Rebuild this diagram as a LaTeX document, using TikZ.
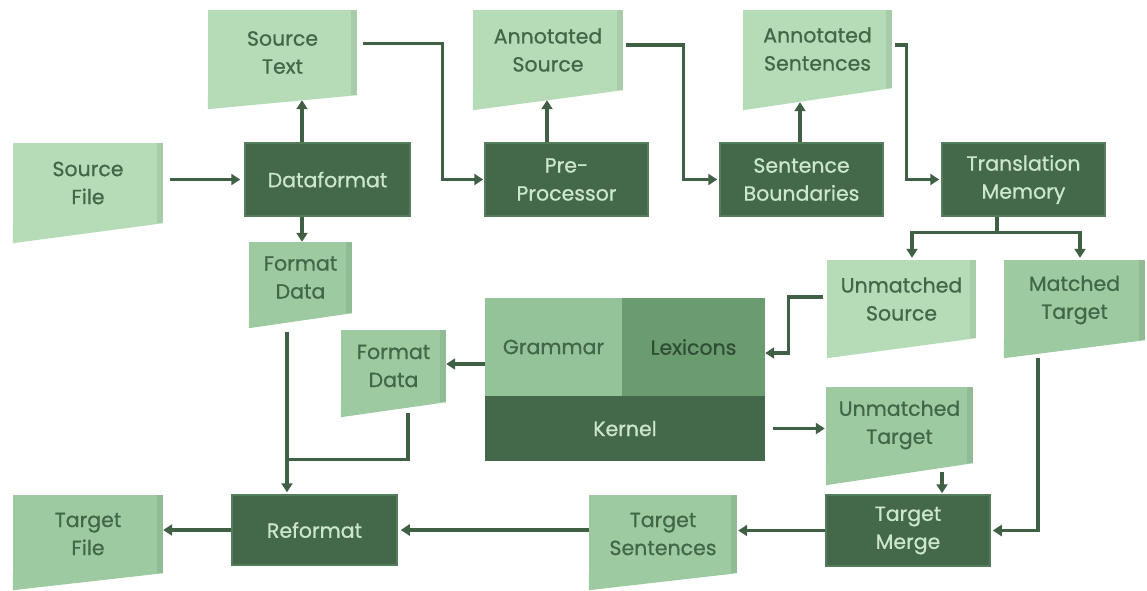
\documentclass[tikz,border=0pt]{standalone}
\usepackage{fontspec}
\setmainfont{Poppins}
\newfontfamily\labelfamily[FakeBold=0.7]{Poppins}
\usetikzlibrary{arrows.meta,calc}

\definecolor{docLight}{HTML}{B5DBB7}
\definecolor{docMid}{HTML}{9DCAA0}
\definecolor{boxDark}{HTML}{44694A}
\definecolor{boxEdge}{HTML}{557D5B}
\definecolor{gramFill}{HTML}{95C399}
\definecolor{lexFill}{HTML}{6B9C70}
\definecolor{inkDark}{HTML}{426648}
\definecolor{inkDeep}{HTML}{2F4C35}
\definecolor{inkLight}{HTML}{CDE7CE}
\definecolor{arrowInk}{HTML}{3F6045}

\tikzset{
  labelfont/.style={font=\labelfamily\fontsize{20.5}{28}\selectfont},
  % document symbol: rectangle plus a slanted lower edge
  docbox/.style n args={4}{rectangle, fill=#1, minimum width=#2, minimum height=#3,
    inner sep=0pt, align=center, text=inkDark, labelfont,
    path picture={\fill[black,opacity=0.07]
      ([xshift=-6pt]path picture bounding box.north east) rectangle
      (path picture bounding box.south east);},
    append after command={\pgfextra{\fill[#1] (\tikzlastnode.south west) --
      (\tikzlastnode.south east) -- ([yshift=-#4]\tikzlastnode.south west) -- cycle;}}},
  procbox/.style n args={2}{rectangle, fill=boxDark, draw=boxEdge, line width=1.5pt,
    minimum width=#1, minimum height=#2, inner sep=0pt, align=center,
    text=inkLight, labelfont},
  arr/.style={draw=arrowInk, line width=3.2pt, -{Triangle[length=9pt,width=11pt]}},
  link/.style={draw=arrowInk, line width=3.2pt},
}

\begin{document}
\begin{tikzpicture}[x=1pt,y=-1pt]
\useasboundingbox (0,0) rectangle (1147,590);

% data items
\node[docbox={docLight}{149pt}{85pt}{14pt}] (st)  at (282.5,52.5) {Source\\Text};
\node[docbox={docLight}{150pt}{80pt}{20pt}] (as)  at (548,50)     {Annotated\\Source};
\node[docbox={docLight}{149pt}{78pt}{22pt}] (asn) at (817.5,49)   {Annotated\\Sentences};
\node[docbox={docLight}{150pt}{80pt}{20pt}] (sf)  at (88,183)     {Source\\File};
\node[docbox={docMid}{103pt}{71pt}{15pt}]   (fd1) at (300.5,277.5) {Format\\Data};
\node[docbox={docMid}{105pt}{72pt}{15pt}]   (fd2) at (393.5,366)  {Format\\Data};
\node[docbox={docLight}{149pt}{78pt}{20pt}] (us)  at (901.5,299)  {Unmatched\\Source};
\node[docbox={docMid}{141pt}{80pt}{18pt}]   (mt)  at (1074.5,300) {Matched\\Target};
\node[docbox={docMid}{147pt}{76pt}{22pt}]   (ut)  at (899.5,425)  {Unmatched\\Target};
\node[docbox={docMid}{148pt}{78pt}{17pt}]   (ts)  at (663,534)    {Target\\Sentences};
\node[docbox={docMid}{150pt}{78pt}{17pt}]   (tf)  at (88,534)     {Target\\File};

% processing steps
\node[procbox={165pt}{73pt}] (df)  at (327.5,179.5) {Dataformat};
\node[procbox={163pt}{73pt}] (pp)  at (566.5,179.5) {Pre-\\Processor};
\node[procbox={163pt}{73pt}] (sb)  at (801.5,179.5) {Sentence\\Boundaries};
\node[procbox={163pt}{73pt}] (tm)  at (1023.5,179.5) {Translation\\Memory};
\node[procbox={164pt}{71pt}] (tmg) at (908,530.5)   {Target\\Merge};
\node[procbox={165pt}{70pt}] (rf)  at (314.5,530)   {Reformat};

% translation engine block
\node[rectangle, fill=gramFill, minimum width=137pt, minimum height=98pt, inner sep=0pt,
  text=inkDark, labelfont] (gram) at (553.5,347) {Grammar};
\node[rectangle, fill=lexFill, minimum width=143pt, minimum height=98pt, inner sep=0pt,
  text=inkDeep, labelfont] (lex) at (693.5,347) {Lexicons};
\node[rectangle, fill=boxDark, minimum width=280pt, minimum height=65pt, inner sep=0pt,
  text=inkLight, labelfont] (kern) at (625,428.5) {Kernel};

% connectors
\draw[arr] ($(sf.east |- df.west)+(7,0)$) -- ($(df.west)+(-4,0)$);
\draw[arr] ($(df.north)+(-25.5,0)$) -- ($(st.south -| df.north)+(-25.5,5)$);
\draw[arr] ($(df.south)+(-25.5,0)$) -- ($(fd1.north -| df.south)+(-25.5,0)$);
\draw[arr] ($(st.east)+(6,-9)$) -| ($(pp.west)+(-42,0)$) -- ($(pp.west)+(-1,0)$);
\draw[arr] ($(pp.north)+(-19.5,0)$) -- ($(as.south -| pp.north)+(-19.5,10)$);
\draw[arr] ($(as.east)+(3,-5)$) -| ($(sb.west)+(-36,0)$) -- ($(sb.west)+(-2,0)$);
\draw[arr] ($(sb.north)+(-1.5,0)$) -- ($(asn.south -| sb.north)+(-1.5,14)$);
\draw[arr] ($(asn.east)+(3,-4)$) -| ($(tm.west)+(-35,0)$) -- ($(tm.west)+(-2,0)$);
\draw[arr] ($(tm.south)+(-26.5,0)$) -- ++(0,16) -| ($(us.north)+(10.5,-2)$);
\draw[arr] ($(tm.south)+(-26.5,16)$) -| ($(mt.north)+(5.5,-2)$);
\draw[arr] ($(us.west)+(-4,-2)$) -| ($(lex.east)+(23,6)$) -- ($(lex.east)+(0,6)$);
\draw[arr] ($(gram.west)+(0,17)$) -- ($(gram.west -| fd2.east)+(0,17)$);
\coordinate (join) at ($(fd1.south)+(-13.5,146)$);
\draw[arr] ($(fd1.south)+(-13.5,19)$) -- ($(rf.north -| fd1.south)+(-13.5,-2)$);
\draw[link] ($(fd2.south)+(14.5,11)$) |- (join);
\draw[arr] ($(kern.east)+(8,0)$) -- ($(kern.east -| ut.west)+(-1,0)$);
\draw[arr] ($(ut.south)+(42.5,9)$) -- ($(tmg.north -| ut.south)+(42.5,-1)$);
\draw[arr] ($(mt.south)+(-36.5,18)$) |- ($(tmg.east)+(2,0)$);
\draw[arr] (tmg.west) -- ($(tmg.west -| ts.east)+(1,0)$);
\draw[arr] (ts.west |- rf.east) -- ($(rf.east)+(3,0)$);
\draw[arr] (rf.west) -- (rf.west -| tf.east);
\end{tikzpicture}
\end{document}
